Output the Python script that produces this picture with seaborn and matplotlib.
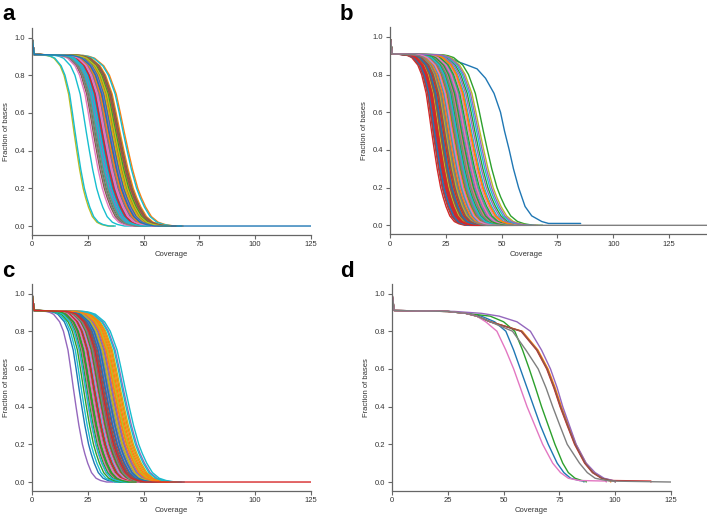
import numpy as np
import pandas as pd
import matplotlib
matplotlib.use('Agg')
import matplotlib.pyplot as plt
import seaborn as sns

# shared start of every curve (coverage 0 -> 1)
START_X = [0, 1]
START_Y = [1.0, 0.91]

# shape of the drop read off a typical curve whose 0.5 crossing is at REF_MID
REF_MID = 40.0
PROF_Y = [0.905, 0.9, 0.89, 0.87, 0.85, 0.80, 0.75, 0.70, 0.60, 0.50, 0.40, 0.30, 0.20, 0.15, 0.10, 0.05, 0.02, 0.008, 0.0]
PROF_DX = [-18, -15.5, -13, -11, -9, -6.5, -5, -3.5, -1.7, 0, 1.8, 3.7, 6, 7.6, 9.5, 12, 15, 18, 22]
TAIL_DX = 26

# coverage where each sample crosses 0.5 (panel a, b, c)
A_MID = [33.0, 41.3, 31.5, 35.6, 30.2, 36.8, 32.4, 29.0, 18.8, 19.3,
         34.1, 37.9, 28.2, 38.6, 33.7, 27.4, 35.0, 31.0, 36.2, 24.3,
         30.7, 39.4, 34.6, 37.2, 29.6, 32.8, 26.6, 33.4, 35.9, 40.8,
         31.8, 36.5, 37.5, 34.3, 30.0, 38.2, 32.1, 28.7, 39.0, 29.3,
         35.3, 33.9, 36.9, 31.3, 34.9, 38.9, 32.6, 27.9, 37.0, 30.4,
         34.5]

B_MID = [27.5, 41.8, 18.6, 25.0, 19.2, 30.5, 23.0, 40.2, 34.0,
         22.5, 31.5, 38.0, 20.0, 26.3, 20.8, 29.0, 24.2, 27.0, 36.5,
         21.3, 33.0, 28.3, 19.5, 31.0, 21.8, 35.2, 25.6, 23.6, 32.3,
         24.6, 29.6, 26.0, 21.0, 37.3, 22.2, 27.8, 33.6, 24.0, 30.0,
         19.9, 35.8, 28.7, 22.8, 32.7, 23.3, 26.6, 30.9, 25.3, 38.8,
         20.4, 28.0, 34.5, 23.9, 29.3, 21.6, 31.8, 26.9, 22.0, 27.3,
         25.9, 36.0, 30.2, 20.6, 24.8, 22.5, 33.3, 28.9, 25.0, 29.8,
         23.1, 26.2, 32.0, 21.4, 39.5, 24.4, 27.6, 25.5]

# the one late sample in panel b
B_OUT_X = [0, 1, 25, 30, 34.6, 39, 42.8, 46.6, 49.5, 51.3, 53.4, 55.3, 57.6, 60.5, 63.5, 68.0, 71.0, 85.4]
B_OUT_Y = [1.0, 0.91, 0.9, 0.87, 0.85, 0.83, 0.78, 0.7, 0.6, 0.5, 0.4, 0.3, 0.2, 0.1, 0.05, 0.02, 0.01, 0.01]

C_MID = [21.0, 36.0, 27.5, 31.5, 18.5, 30.0, 25.0, 33.5, 38.5, 22.0,
         29.0, 37.5, 24.5, 32.5, 40.8, 28.0, 26.5, 34.5, 36.8, 41.7,
         30.5, 35.0, 26.0, 29.5, 33.0, 27.0, 23.8, 35.5, 39.5, 28.5,
         31.8, 38.0, 23.0, 30.8, 34.0, 25.5, 28.8, 31.0, 37.2, 24.0,
         32.8, 39.0, 29.8, 27.8, 35.8, 32.0, 26.8, 30.2, 34.8, 40.3,
         33.8, 36.5, 25.8, 31.2]

# panel d: eight samples read point by point
D_Y = [1.0, 0.91, 0.905, 0.895, 0.88, 0.85, 0.80, 0.70, 0.60, 0.50, 0.40, 0.30,
       0.20, 0.10, 0.05, 0.02, 0.008, 0.005, 0.0]
D_X = [
    [0, 1, 25, 33, 40, 46, 51, 54.5, 57.5, 60.5, 63.5, 66.5, 70, 74, 77, 80, 84, 86, 86],
    [0, 1, 25, 33, 38, 44, 58.4, 65.4, 69.9, 73.1, 75.9, 79.1, 82.4, 86.9, 90.4, 94.4, 97, 98, 98],
    [0, 1, 25, 33, 44, 50, 55, 58.5, 61.5, 64.3, 67, 70, 73, 76.5, 79, 82, 85, 87, 87],
    [0, 1, 25, 33, 38, 44, 57.8, 64.8, 69.3, 72.5, 75.3, 78.5, 81.8, 86.3, 89.8, 93.8, 99, 116, 116],
    [0, 1, 28, 40, 48, 56, 62, 67, 71, 74, 76.5, 79.5, 82.5, 87, 91, 95, 99, 100, 100],
    [0, 1, 25, 33, 38, 44, 58, 65, 69.5, 72.7, 75.5, 78.7, 82, 86.5, 90, 94, 98, 100, 100],
    [0, 1, 25, 33, 38, 42, 47, 51, 54.5, 57.5, 60.5, 64, 67.5, 72, 75.5, 79, 84, 96, 96],
    [0, 1, 25, 33, 38, 44, 54, 60, 65.5, 69, 72, 75.2, 78.5, 84, 87.5, 91, 96, 98, 125],
]

COLORS = sns.color_palette('tab10', 10)


def curve_from_mid(mid, tail_end):
    s = np.sqrt(mid / REF_MID)
    xs = START_X + [mid + d * s for d in PROF_DX] + [tail_end]
    ys = START_Y + PROF_Y + [0.0]
    return xs, ys


def build_frame(curves):
    rows = []
    for i, (xs, ys) in enumerate(curves):
        rows.append(pd.DataFrame({'sample': f's{i:03d}', 'coverage': xs, 'fraction': ys}))
    return pd.concat(rows, ignore_index=True)


def mid_curves(mids, last_end, first=None):
    curves = [] if first is None else [first]
    for m in mids:
        curves.append(curve_from_mid(m, m + TAIL_DX * np.sqrt(m / REF_MID)))
    xs, ys = curves[-1]
    curves[-1] = (xs + [last_end], ys + [0.0])
    return curves


def draw_panel(ax, curves, xmax):
    df = build_frame(curves)
    order = list(dict.fromkeys(df['sample']))
    pal = [COLORS[i % 10] for i in range(len(order))]
    sns.lineplot(data=df, x='coverage', y='fraction', hue='sample', hue_order=order,
                 palette=pal, estimator=None, sort=False, legend=False, lw=1.0, ax=ax)
    ax.set_xlim(0, xmax)
    ax.set_ylim(-0.045, 1.05)
    ax.set_xticks([0, 25, 50, 75, 100, 125])
    ax.set_yticks([0.0, 0.2, 0.4, 0.6, 0.8, 1.0])
    ax.set_yticklabels(['0.0', '0.2', '0.4', '0.6', '0.8', '1.0'])
    ax.set_xlabel('Coverage', fontsize=5.5, labelpad=2, color='#333333')
    ax.set_ylabel('Fraction of bases', fontsize=5.5, labelpad=3, color='#333333')
    ax.tick_params(labelsize=5.5, length=3, width=0.8, color='#666666', labelcolor='#333333', pad=2)
    for sp in ['left', 'bottom']:
        ax.spines[sp].set_color('#666666')
        ax.spines[sp].set_linewidth(0.9)
    sns.despine(ax=ax)


sns.set_theme(style='ticks')
plt.rcParams['font.family'] = ['Liberation Sans', 'DejaVu Sans']

W, H = 707, 515
fig = plt.figure(figsize=(W / 100, H / 100), dpi=100)

ax_a = fig.add_axes([32 / W, (H - 234.5) / H, 279 / W, 206.4 / H])
ax_b = fig.add_axes([390 / W, (H - 233.8) / H, 317 / W, 206.4 / H])
ax_c = fig.add_axes([32 / W, (H - 490.5) / H, 279 / W, 206.4 / H])
ax_d = fig.add_axes([392 / W, (H - 490.5) / H, 279 / W, 206.4 / H])

draw_panel(ax_a, mid_curves(A_MID, 125), 125)
draw_panel(ax_b, mid_curves(B_MID, 142, first=(B_OUT_X, B_OUT_Y)), 142)
ax_b.xaxis.set_label_coords(0.429, -0.085)
draw_panel(ax_c, mid_curves(C_MID, 125), 125)
draw_panel(ax_d, [(x, D_Y) for x in D_X], 125)

for label, x, y in [('a', 2, 20), ('b', 340, 20), ('c', 2, 277), ('d', 340, 277)]:
    fig.text(x / W, (H - y) / H, label, fontsize=16, fontweight='bold', color='black',
             va='baseline', ha='left')

fig.savefig('out.png', dpi=100)
